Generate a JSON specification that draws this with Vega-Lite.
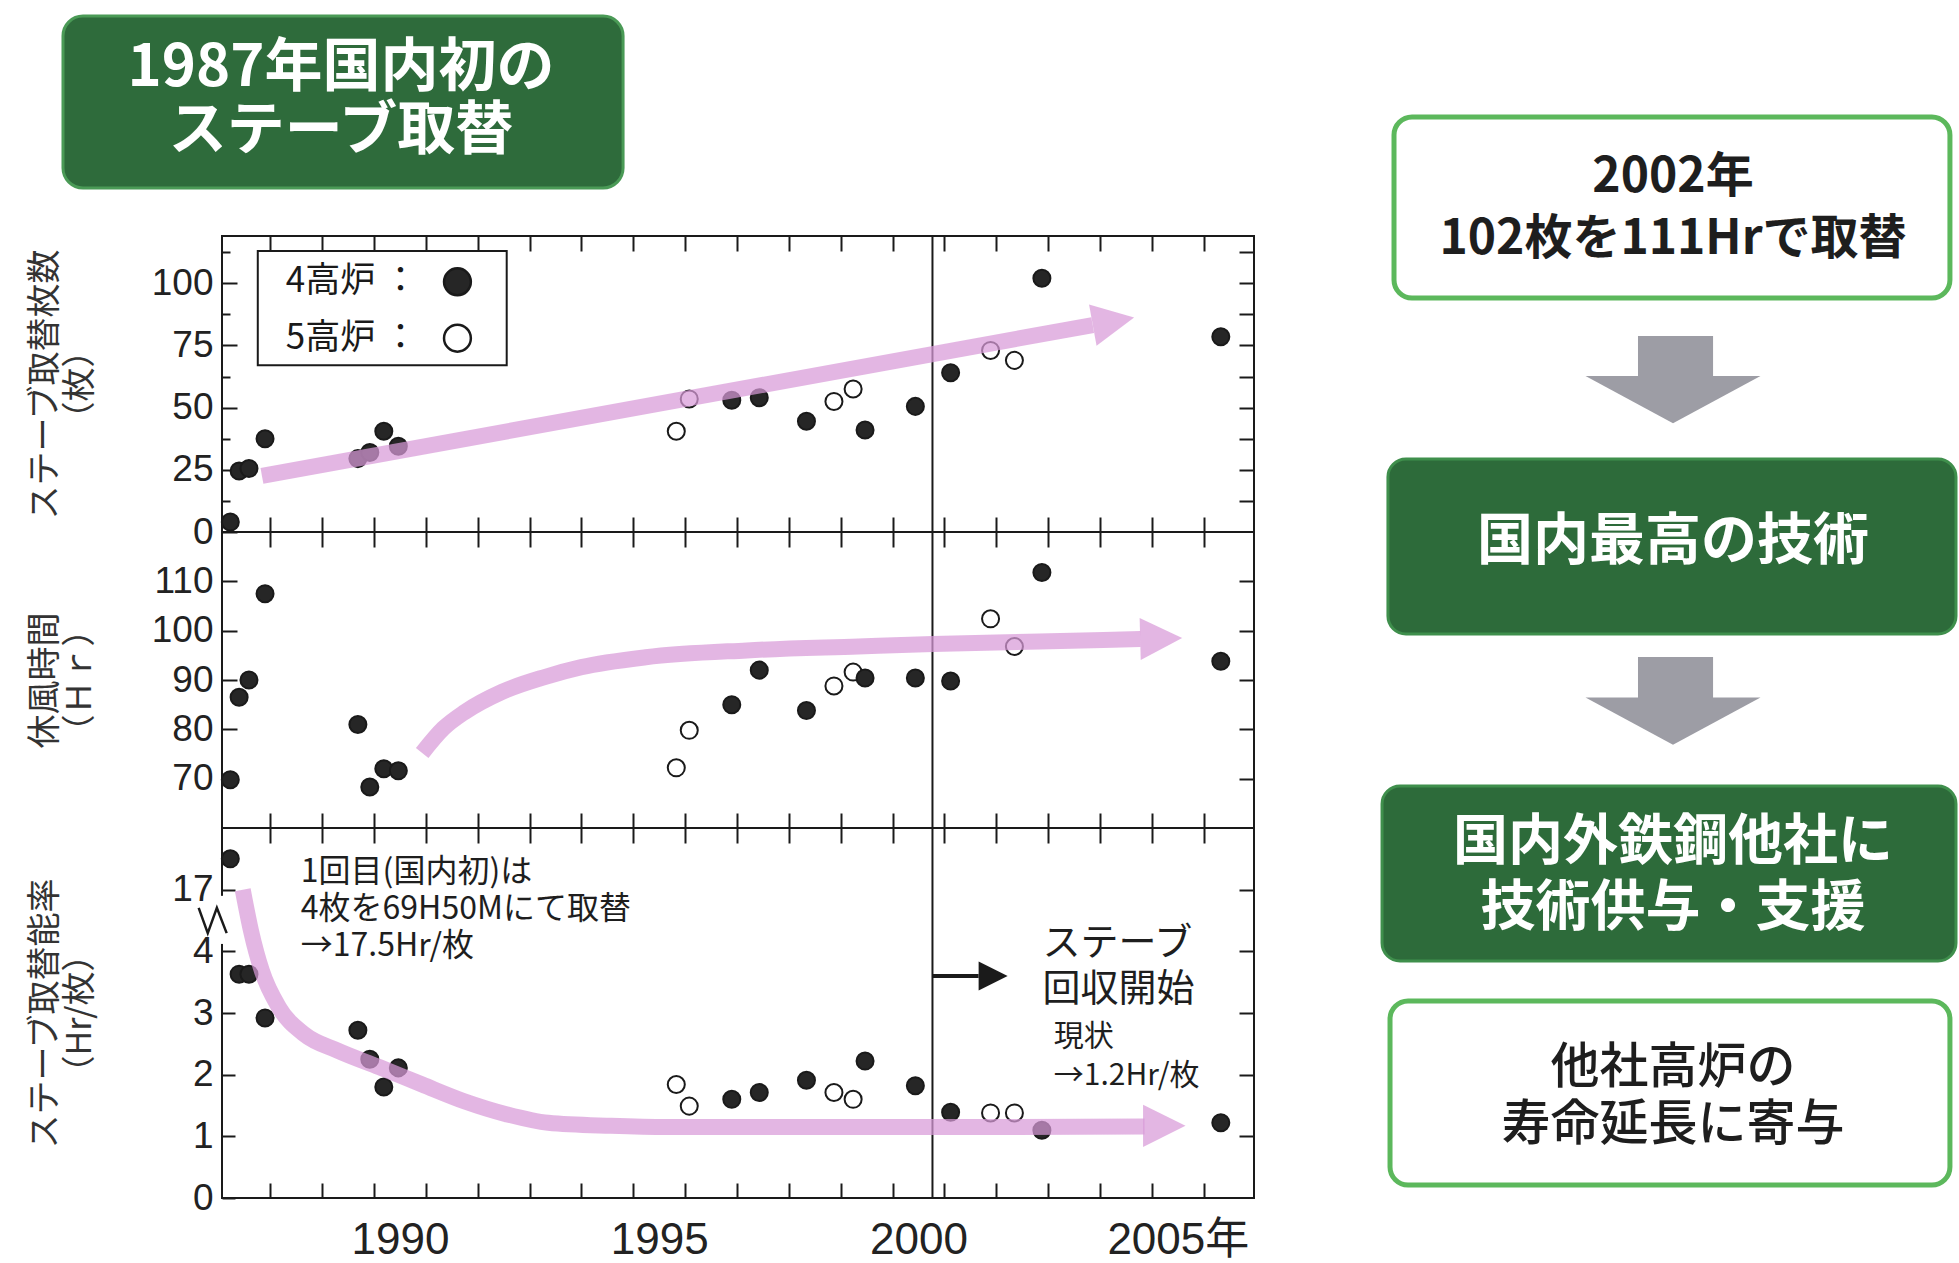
{
  "$schema": "https://vega.github.io/schema/vega-lite/v6.json",
  "background": "white",
  "padding": {"left": 27, "top": 14, "right": 0, "bottom": 0},
  "bounds": "flush",
  "spacing": 0,
  "config": {
    "view": {"stroke": null},
    "axis": {"labelOverlap": false, "labelFlush": false, "grid": false},
    "text": {"font": "Noto Sans CJK JP"}
  },
  "datasets": {
    "obs": [
      {"year": 1987.23, "furnace": "4高炉", "count": 4, "hours": 69.8, "rate": 17.5},
      {"year": 1987.40, "furnace": "4高炉", "count": 24.5, "hours": 86.5, "rate": 3.63},
      {"year": 1987.59, "furnace": "4高炉", "count": 25.5, "hours": 90, "rate": 3.63},
      {"year": 1987.90, "furnace": "4高炉", "count": 37.5, "hours": 107.5, "rate": 2.92},
      {"year": 1989.69, "furnace": "4高炉", "count": 29.5, "hours": 81, "rate": 2.72},
      {"year": 1989.92, "furnace": "4高炉", "count": 32, "hours": 68.3, "rate": 2.25},
      {"year": 1990.19, "furnace": "4高炉", "count": 40.5, "hours": 72, "rate": 1.8},
      {"year": 1990.47, "furnace": "4高炉", "count": 34.5, "hours": 71.6, "rate": 2.11},
      {"year": 1995.83, "furnace": "5高炉", "count": 40.5, "hours": 72.2, "rate": 1.84},
      {"year": 1996.08, "furnace": "5高炉", "count": 53.5, "hours": 79.8, "rate": 1.49},
      {"year": 1996.90, "furnace": "4高炉", "count": 53, "hours": 85, "rate": 1.6},
      {"year": 1997.43, "furnace": "4高炉", "count": 54, "hours": 92, "rate": 1.71},
      {"year": 1998.34, "furnace": "4高炉", "count": 44.5, "hours": 83.8, "rate": 1.91},
      {"year": 1998.87, "furnace": "5高炉", "count": 52.5, "hours": 88.8, "rate": 1.71},
      {"year": 1999.24, "furnace": "5高炉", "count": 57.5, "hours": 91.6, "rate": 1.6},
      {"year": 1999.47, "furnace": "4高炉", "count": 41, "hours": 90.4, "rate": 2.22},
      {"year": 2000.44, "furnace": "4高炉", "count": 50.5, "hours": 90.4, "rate": 1.82},
      {"year": 2001.12, "furnace": "4高炉", "count": 64, "hours": 89.8, "rate": 1.39},
      {"year": 2001.89, "furnace": "5高炉", "count": 73, "hours": 102.4, "rate": 1.38},
      {"year": 2002.35, "furnace": "5高炉", "count": 69, "hours": 96.8, "rate": 1.38},
      {"year": 2002.88, "furnace": "4高炉", "count": 102, "hours": 111.8, "rate": 1.1},
      {"year": 2006.33, "furnace": "4高炉", "count": 78.5, "hours": 93.8, "rate": 1.22}
    ],
    "trend_count": [
      {"year": 1987.84, "value": 22.6},
      {"year": 2003.86, "value": 83.2}
    ],
    "trend_hours": [
      {"year": 1990.93, "value": 75.2},
      {"year": 1991.34, "value": 80.2},
      {"year": 1991.75, "value": 83.5},
      {"year": 1992.47, "value": 87.6},
      {"year": 1993.29, "value": 90.6},
      {"year": 1994.00, "value": 92.6},
      {"year": 1995.24, "value": 94.6},
      {"year": 1997.19, "value": 96.0},
      {"year": 1999.34, "value": 96.8},
      {"year": 2000.78, "value": 97.3},
      {"year": 2002.83, "value": 97.8},
      {"year": 2004.78, "value": 98.3}
    ],
    "trend_rate": [
      {"year": 1987.47, "value": 17.0},
      {"year": 1987.63, "value": 4.33},
      {"year": 1987.84, "value": 3.68},
      {"year": 1988.17, "value": 3.09},
      {"year": 1988.65, "value": 2.66},
      {"year": 1989.30, "value": 2.39},
      {"year": 1990.11, "value": 2.12},
      {"year": 1990.93, "value": 1.84},
      {"year": 1991.74, "value": 1.57},
      {"year": 1992.55, "value": 1.36},
      {"year": 1993.36, "value": 1.22},
      {"year": 1994.57, "value": 1.17},
      {"year": 1995.65, "value": 1.15},
      {"year": 2000.78, "value": 1.15},
      {"year": 2004.86, "value": 1.16}
    ]
  },
  "vconcat": [
    {
      "width": 1734,
      "height": 220,
      "data": {"values": [{}]},
      "layer": [
        {
          "mark": {"type": "rect", "cornerRadius": 20, "fill": "#2e6b3b", "stroke": "#4a9a56", "strokeWidth": 3},
          "encoding": {
            "x": {"datum": -9.17, "type": "quantitative", "scale": {"domain": [0, 100], "nice": false, "zero": false}, "axis": null},
            "x2": {"datum": 23.13},
            "y": {"datum": 0, "type": "quantitative", "scale": {"domain": [0, 18.803], "reverse": true, "nice": false, "zero": false}, "axis": null},
            "y2": {"datum": 14.70}
          }
        },
        {
          "mark": {"type": "text", "align": "center", "baseline": "middle", "fontSize": 58, "fontWeight": "bold", "color": "#ffffff", "lineHeight": 63},
          "encoding": {
            "x": {"datum": 6.86, "type": "quantitative", "axis": null},
            "y": {"datum": 4.55, "type": "quantitative", "axis": null},
            "text": {"value": ["1987年国内初の", "ステーブ取替"]}
          }
        },
        {
          "mark": {"type": "rect", "cornerRadius": 18, "fill": "#ffffff", "stroke": "#5cb85c", "strokeWidth": 5},
          "encoding": {
            "x": {"datum": 67.59, "type": "quantitative", "axis": null},
            "x2": {"datum": 99.65},
            "y": {"datum": 8.63, "type": "quantitative", "axis": null},
            "y2": {"datum": 24.10}
          }
        },
        {
          "mark": {"type": "text", "align": "center", "baseline": "middle", "fontSize": 48, "fontWeight": "bold", "color": "#1e1e1e", "lineHeight": 62},
          "encoding": {
            "x": {"datum": 83.68, "type": "quantitative", "axis": null},
            "y": {"datum": 13.85, "type": "quantitative", "axis": null},
            "text": {"value": ["2002年", "102枚を111Hrで取替"]}
          }
        },
        {
          "mark": {"type": "rect", "fill": "#9d9da5"},
          "encoding": {
            "x": {"datum": 81.66, "type": "quantitative", "axis": null},
            "x2": {"datum": 85.99},
            "y": {"datum": 27.35, "type": "quantitative", "axis": null},
            "y2": {"datum": 30.77}
          }
        },
        {
          "mark": {"type": "point", "shape": "M-1,-0.27L1,-0.27L0,0.27Z", "filled": true, "color": "#9d9da5", "opacity": 1, "size": 30625, "strokeWidth": 0},
          "encoding": {
            "x": {"datum": 83.68, "type": "quantitative", "axis": null},
            "y": {"datum": 32.78, "type": "quantitative", "axis": null}
          }
        },
        {
          "mark": {"type": "rect", "cornerRadius": 18, "fill": "#2d6b3a", "stroke": "#3f8f4c", "strokeWidth": 3},
          "encoding": {
            "x": {"datum": 67.24, "type": "quantitative", "axis": null},
            "x2": {"datum": 100},
            "y": {"datum": 37.86, "type": "quantitative", "axis": null},
            "y2": {"datum": 52.82}
          }
        },
        {
          "mark": {"type": "text", "align": "center", "baseline": "middle", "fontSize": 56, "fontWeight": "bold", "color": "#ffffff"},
          "encoding": {
            "x": {"datum": 83.68, "type": "quantitative", "axis": null},
            "y": {"datum": 44.96, "type": "quantitative", "axis": null},
            "text": {"value": "国内最高の技術"}
          }
        },
        {
          "mark": {"type": "rect", "fill": "#9d9da5"},
          "encoding": {
            "x": {"datum": 81.66, "type": "quantitative", "axis": null},
            "x2": {"datum": 85.99},
            "y": {"datum": 54.79, "type": "quantitative", "axis": null},
            "y2": {"datum": 58.29}
          }
        },
        {
          "mark": {"type": "point", "shape": "M-1,-0.27L1,-0.27L0,0.27Z", "filled": true, "color": "#9d9da5", "opacity": 1, "size": 30625, "strokeWidth": 0},
          "encoding": {
            "x": {"datum": 83.68, "type": "quantitative", "axis": null},
            "y": {"datum": 60.26, "type": "quantitative", "axis": null}
          }
        },
        {
          "mark": {"type": "rect", "cornerRadius": 18, "fill": "#2d6b3a", "stroke": "#3f8f4c", "strokeWidth": 3},
          "encoding": {
            "x": {"datum": 66.90, "type": "quantitative", "axis": null},
            "x2": {"datum": 100},
            "y": {"datum": 65.81, "type": "quantitative", "axis": null},
            "y2": {"datum": 80.77}
          }
        },
        {
          "mark": {"type": "text", "align": "center", "baseline": "middle", "fontSize": 55, "fontWeight": "bold", "color": "#ffffff", "lineHeight": 66},
          "encoding": {
            "x": {"datum": 83.68, "type": "quantitative", "axis": null},
            "y": {"datum": 70.60, "type": "quantitative", "axis": null},
            "text": {"value": ["国内外鉄鋼他社に", "技術供与・支援"]}
          }
        },
        {
          "mark": {"type": "rect", "cornerRadius": 18, "fill": "#ffffff", "stroke": "#5cb85c", "strokeWidth": 5},
          "encoding": {
            "x": {"datum": 67.36, "type": "quantitative", "axis": null},
            "x2": {"datum": 99.65},
            "y": {"datum": 84.19, "type": "quantitative", "axis": null},
            "y2": {"datum": 99.91}
          }
        },
        {
          "mark": {"type": "text", "align": "center", "baseline": "middle", "fontSize": 49, "fontWeight": 500, "color": "#1e1e1e", "lineHeight": 57},
          "encoding": {
            "x": {"datum": 83.68, "type": "quantitative", "axis": null},
            "y": {"datum": 89.90, "type": "quantitative", "axis": null},
            "text": {"value": ["他社高炉の", "寿命延長に寄与"]}
          }
        }
      ]
    },
    {
      "width": 1032,
      "height": 296,
      "data": {"values": [{}]},
      "view": {"stroke": "#1a1a1a", "strokeWidth": 2},
      "resolve": {"axis": {"x": "independent", "y": "independent"}},
      "layer": [
        {
          "mark": {"type": "rule", "color": "#1a1a1a", "strokeWidth": 2},
          "encoding": {
            "x": {"datum": 2000.77, "type": "quantitative", "scale": {"domain": [1987.07, 2006.97], "nice": false, "zero": false},
              "axis": {"orient": "top", "values": [1988,1989,1990,1991,1992,1993,1994,1995,1996,1997,1998,1999,2000,2001,2002,2003,2004,2005,2006], "labels": false, "domain": false, "tickSize": -15, "tickWidth": 2, "tickColor": "#1a1a1a", "title": null}}
          }
        },
        {
          "data": {"name": "obs"},
          "mark": {"type": "point", "shape": "circle", "filled": true, "size": 290, "stroke": "#1a1a1a", "strokeWidth": 2, "opacity": 1},
          "encoding": {
            "x": {"field": "year", "type": "quantitative", "scale": {"domain": [1987.07, 2006.97], "nice": false, "zero": false},
              "axis": {"orient": "bottom", "values": [1988,1989,1990,1991,1992,1993,1994,1995,1996,1997,1998,1999,2000,2001,2002,2003,2004,2005,2006], "labels": false, "domain": false, "tickSize": -15, "tickWidth": 2, "tickColor": "#1a1a1a", "title": null}},
            "y": {"field": "count", "type": "quantitative", "scale": {"domain": [0, 119], "nice": false, "zero": false},
              "axis": {"orient": "left", "values": [0, 25, 50, 75, 100], "ticks": false, "domain": false, "labelPadding": 9, "labelFont": "Liberation Sans", "labelFontSize": 37, "labelColor": "#222222",
                "title": ["ステーブ取替枚数", "（枚）"], "titleFont": "Noto Sans CJK JP", "titleFontSize": 34, "titleFontWeight": "normal", "titleColor": "#333333", "titleLineHeight": 35, "titleAngle": 270, "titleBaseline": "middle", "titleAlign": "center", "titleX": -177}},
            "fill": {"field": "furnace", "type": "nominal", "scale": {"domain": ["4高炉", "5高炉"], "range": ["#262626", "#ffffff"]}, "legend": null}
          }
        },
        {
          "mark": {"type": "rect", "fill": "#ffffff", "stroke": "#1a1a1a", "strokeWidth": 2},
          "encoding": {
            "x": {"datum": 1987.76, "type": "quantitative", "axis": null},
            "x2": {"datum": 1992.56},
            "y": {"datum": 113, "type": "quantitative", "axis": null},
            "y2": {"datum": 67}
          }
        },
        {
          "mark": {"type": "text", "align": "left", "baseline": "middle", "fontSize": 35, "color": "#1a1a1a"},
          "encoding": {
            "x": {"datum": 1988.30, "type": "quantitative", "axis": null},
            "y": {"datum": 100.9, "type": "quantitative", "axis": null},
            "text": {"value": "4高炉 ："}
          }
        },
        {
          "mark": {"type": "text", "align": "left", "baseline": "middle", "fontSize": 35, "color": "#1a1a1a"},
          "encoding": {
            "x": {"datum": 1988.30, "type": "quantitative", "axis": null},
            "y": {"datum": 78.0, "type": "quantitative", "axis": null},
            "text": {"value": "5高炉 ："}
          }
        },
        {
          "mark": {"type": "point", "shape": "circle", "filled": true, "size": 720, "stroke": "#1a1a1a", "strokeWidth": 2.5, "opacity": 1},
          "encoding": {
            "x": {"datum": 1991.61, "type": "quantitative", "axis": null},
            "y": {"datum": 100.6, "type": "quantitative", "axis": null},
            "fill": {"datum": "4高炉", "legend": null}
          }
        },
        {
          "mark": {"type": "point", "shape": "circle", "filled": true, "size": 720, "stroke": "#1a1a1a", "strokeWidth": 2.5, "opacity": 1},
          "encoding": {
            "x": {"datum": 1991.61, "type": "quantitative", "axis": null},
            "y": {"datum": 77.9, "type": "quantitative", "axis": null},
            "fill": {"datum": "5高炉", "legend": null}
          }
        },
        {
          "data": {"name": "trend_count"},
          "mark": {"type": "line", "color": "#d89ad8", "opacity": 0.72, "strokeWidth": 16, "strokeCap": "butt"},
          "encoding": {
            "x": {"field": "year", "type": "quantitative", "axis": null},
            "y": {"field": "value", "type": "quantitative",
              "axis": {"orient": "left", "values": [0, 12.5, 25, 37.5, 50, 62.5, 75, 87.5, 100, 112.5], "labels": false, "domain": false, "tickSize": {"condition": {"test": "datum.value % 25 === 0", "value": -15}, "value": -8}, "tickWidth": 2, "tickColor": "#1a1a1a", "title": null}}
          }
        },
        {
          "mark": {"type": "point", "shape": "M-1,-1L1,0L-1,1Z", "filled": true, "color": "#d89ad8", "opacity": 0.72, "size": 1764, "angle": 349.7, "strokeWidth": 0},
          "encoding": {
            "x": {"datum": 2004.26, "type": "quantitative", "axis": null},
            "y": {"datum": 84.7, "type": "quantitative",
              "axis": {"orient": "right", "values": [12.5, 25, 37.5, 50, 62.5, 75, 87.5, 100, 112.5], "labels": false, "domain": false, "tickSize": -15, "tickWidth": 2, "tickColor": "#1a1a1a", "title": null}}
          }
        }
      ]
    },
    {
      "width": 1032,
      "height": 296,
      "data": {"values": [{}]},
      "view": {"stroke": "#1a1a1a", "strokeWidth": 2},
      "resolve": {"axis": {"x": "independent", "y": "independent"}},
      "layer": [
        {
          "mark": {"type": "rule", "color": "#1a1a1a", "strokeWidth": 2},
          "encoding": {
            "x": {"datum": 2000.77, "type": "quantitative", "scale": {"domain": [1987.07, 2006.97], "nice": false, "zero": false},
              "axis": {"orient": "top", "values": [1988,1989,1990,1991,1992,1993,1994,1995,1996,1997,1998,1999,2000,2001,2002,2003,2004,2005,2006], "labels": false, "domain": false, "tickSize": -15, "tickWidth": 2, "tickColor": "#1a1a1a", "title": null}}
          }
        },
        {
          "data": {"name": "obs"},
          "mark": {"type": "point", "shape": "circle", "filled": true, "size": 290, "stroke": "#1a1a1a", "strokeWidth": 2, "opacity": 1},
          "encoding": {
            "x": {"field": "year", "type": "quantitative", "scale": {"domain": [1987.07, 2006.97], "nice": false, "zero": false},
              "axis": {"orient": "bottom", "values": [1988,1989,1990,1991,1992,1993,1994,1995,1996,1997,1998,1999,2000,2001,2002,2003,2004,2005,2006], "labels": false, "domain": false, "tickSize": -15, "tickWidth": 2, "tickColor": "#1a1a1a", "title": null}},
            "y": {"field": "hours", "type": "quantitative", "scale": {"domain": [60, 120], "nice": false, "zero": false},
              "axis": {"orient": "left", "values": [70, 80, 90, 100, 110], "ticks": false, "domain": false, "labelPadding": 9, "labelFont": "Liberation Sans", "labelFontSize": 37, "labelColor": "#222222",
                "title": ["休風時間", "（Ｈｒ）"], "titleFont": "Noto Sans CJK JP", "titleFontSize": 34, "titleFontWeight": "normal", "titleColor": "#333333", "titleLineHeight": 35, "titleAngle": 270, "titleBaseline": "middle", "titleAlign": "center", "titleX": -177}},
            "fill": {"field": "furnace", "type": "nominal", "scale": {"domain": ["4高炉", "5高炉"], "range": ["#262626", "#ffffff"]}, "legend": null}
          }
        },
        {
          "data": {"name": "trend_hours"},
          "mark": {"type": "line", "interpolate": "monotone", "color": "#d89ad8", "opacity": 0.72, "strokeWidth": 16, "strokeCap": "butt"},
          "encoding": {
            "x": {"field": "year", "type": "quantitative", "axis": null},
            "y": {"field": "value", "type": "quantitative",
              "axis": {"orient": "left", "values": [70, 80, 90, 100, 110], "labels": false, "domain": false, "tickSize": -15, "tickWidth": 2, "tickColor": "#1a1a1a", "title": null}}
          }
        },
        {
          "mark": {"type": "point", "shape": "M-1,-1L1,0L-1,1Z", "filled": true, "color": "#d89ad8", "opacity": 0.72, "size": 1764, "angle": 358.5, "strokeWidth": 0},
          "encoding": {
            "x": {"datum": 2005.18, "type": "quantitative", "axis": null},
            "y": {"datum": 98.4, "type": "quantitative",
              "axis": {"orient": "right", "values": [70, 80, 90, 100, 110], "labels": false, "domain": false, "tickSize": -15, "tickWidth": 2, "tickColor": "#1a1a1a", "title": null}}
          }
        }
      ]
    },
    {
      "width": 1032,
      "height": 370,
      "data": {"values": [{}]},
      "view": {"stroke": "#1a1a1a", "strokeWidth": 2},
      "resolve": {"axis": {"x": "independent", "y": "independent"}},
      "layer": [
        {
          "mark": {"type": "rule", "color": "#1a1a1a", "strokeWidth": 2},
          "encoding": {
            "x": {"datum": 2000.77, "type": "quantitative", "scale": {"domain": [1987.07, 2006.97], "nice": false, "zero": false},
              "axis": {"orient": "top", "values": [1988,1989,1990,1991,1992,1993,1994,1995,1996,1997,1998,1999,2000,2001,2002,2003,2004,2005,2006], "labels": false, "domain": false, "tickSize": -15, "tickWidth": 2, "tickColor": "#1a1a1a", "title": null}}
          }
        },
        {
          "data": {"name": "obs"},
          "mark": {"type": "point", "shape": "circle", "filled": true, "size": 290, "stroke": "#1a1a1a", "strokeWidth": 2, "opacity": 1},
          "encoding": {
            "x": {"field": "year", "type": "quantitative", "scale": {"domain": [1987.07, 2006.97], "nice": false, "zero": false},
              "axis": {"orient": "bottom", "values": [1988,1989,1990,1991,1992,1993,1994,1995,1996,1997,1998,1999,2000,2001,2002,2003,2004,2005,2006], "labels": false, "domain": false, "tickSize": -15, "tickWidth": 2, "tickColor": "#1a1a1a", "title": null}},
            "y": {"field": "rate", "type": "quantitative", "scale": {"domain": [0, 4.4, 16.6, 18], "range": [370, 98.67, 86.33, 0], "nice": false, "zero": false},
              "axis": {"orient": "left", "values": [0, 1, 2, 3, 4, 17], "ticks": false, "domain": false, "labelPadding": 9, "labelFont": "Liberation Sans", "labelFontSize": 37, "labelColor": "#222222",
                "title": ["ステーブ取替能率", "（Hr/枚）"], "titleFont": "Noto Sans CJK JP", "titleFontSize": 34, "titleFontWeight": "normal", "titleColor": "#333333", "titleLineHeight": 35, "titleAngle": 270, "titleBaseline": "middle", "titleAlign": "center", "titleX": -177}},
            "fill": {"field": "furnace", "type": "nominal", "scale": {"domain": ["4高炉", "5高炉"], "range": ["#262626", "#ffffff"]}, "legend": null}
          }
        },
        {
          "data": {"name": "trend_rate"},
          "mark": {"type": "line", "interpolate": "monotone", "color": "#d89ad8", "opacity": 0.72, "strokeWidth": 16, "strokeCap": "butt"},
          "encoding": {
            "x": {"field": "year", "type": "quantitative",
              "axis": {"orient": "bottom", "values": [1990, 1995, 2000, 2005], "ticks": false, "domain": false, "format": "d", "labelExpr": "datum.value == 2005 ? '2005年' : datum.label", "labelOffset": 26, "labelPadding": 20, "labelFont": "Liberation Sans, Noto Sans CJK JP", "labelFontSize": 44, "labelColor": "#222222", "title": null}},
            "y": {"field": "value", "type": "quantitative",
              "axis": {"orient": "left", "values": [0, 1, 2, 3, 4, 17], "labels": false, "domain": false, "tickSize": -13, "tickWidth": 2, "tickColor": "#1a1a1a", "title": null}}
          }
        },
        {
          "mark": {"type": "point", "shape": "M-1,-1L1,0L-1,1Z", "filled": true, "color": "#d89ad8", "opacity": 0.72, "size": 1800, "strokeWidth": 0},
          "encoding": {
            "x": {"datum": 2005.24, "type": "quantitative", "axis": null},
            "y": {"datum": 1.17, "type": "quantitative",
              "axis": {"orient": "right", "values": [1, 2, 3, 4, 17], "labels": false, "domain": false, "tickSize": -15, "tickWidth": 2, "tickColor": "#1a1a1a", "title": null}}
          }
        },
        {
          "mark": {"type": "rule", "color": "#1a1a1a", "strokeWidth": 4},
          "encoding": {
            "x": {"datum": 2000.77, "type": "quantitative", "axis": null},
            "x2": {"datum": 2001.66},
            "y": {"datum": 3.6, "type": "quantitative", "axis": null}
          }
        },
        {
          "mark": {"type": "point", "shape": "M-1,-1L1,0L-1,1Z", "filled": true, "color": "#1a1a1a", "opacity": 1, "size": 841, "strokeWidth": 0},
          "encoding": {
            "x": {"datum": 2001.94, "type": "quantitative", "axis": null},
            "y": {"datum": 3.6, "type": "quantitative", "axis": null}
          }
        },
        {
          "mark": {"type": "text", "align": "left", "baseline": "middle", "fontSize": 32, "color": "#1e1e1e", "lineHeight": 37},
          "encoding": {
            "x": {"datum": 1988.59, "type": "quantitative", "axis": null},
            "y": {"datum": 17.29, "type": "quantitative", "axis": null},
            "text": {"value": ["1回目(国内初)は", "4枚を69H50Mにて取替", "→17.5Hr/枚"]}
          }
        },
        {
          "mark": {"type": "text", "align": "left", "baseline": "middle", "fontSize": 38, "color": "#1e1e1e", "lineHeight": 46},
          "encoding": {
            "x": {"datum": 2002.89, "type": "quantitative", "axis": null},
            "y": {"datum": 4.12, "type": "quantitative", "axis": null},
            "text": {"value": ["ステーブ", "回収開始"]}
          }
        },
        {
          "mark": {"type": "text", "align": "left", "baseline": "middle", "fontSize": 30, "color": "#1e1e1e", "lineHeight": 39},
          "encoding": {
            "x": {"datum": 2003.11, "type": "quantitative", "axis": null},
            "y": {"datum": 2.61, "type": "quantitative", "axis": null},
            "text": {"value": [" 現状", "→1.2Hr/枚"]}
          }
        },
        {
          "mark": {"type": "rect", "fill": "#ffffff"},
          "encoding": {
            "x": {"datum": 1986.98, "type": "quantitative", "axis": null},
            "x2": {"datum": 1987.16},
            "y": {"datum": 4.12, "type": "quantitative", "axis": null},
            "y2": {"datum": 16.9}
          }
        },
        {
          "mark": {"type": "point", "shape": "M-1,-0.9L-0.35,0.9L0.3,-0.9L1,0.9", "filled": false, "stroke": "#1a1a1a", "strokeWidth": 2.5, "size": 784, "opacity": 1},
          "encoding": {
            "x": {"datum": 1986.89, "type": "quantitative", "axis": null},
            "y": {"datum": 10.5, "type": "quantitative", "axis": null}
          }
        }
      ]
    }
  ]
}
